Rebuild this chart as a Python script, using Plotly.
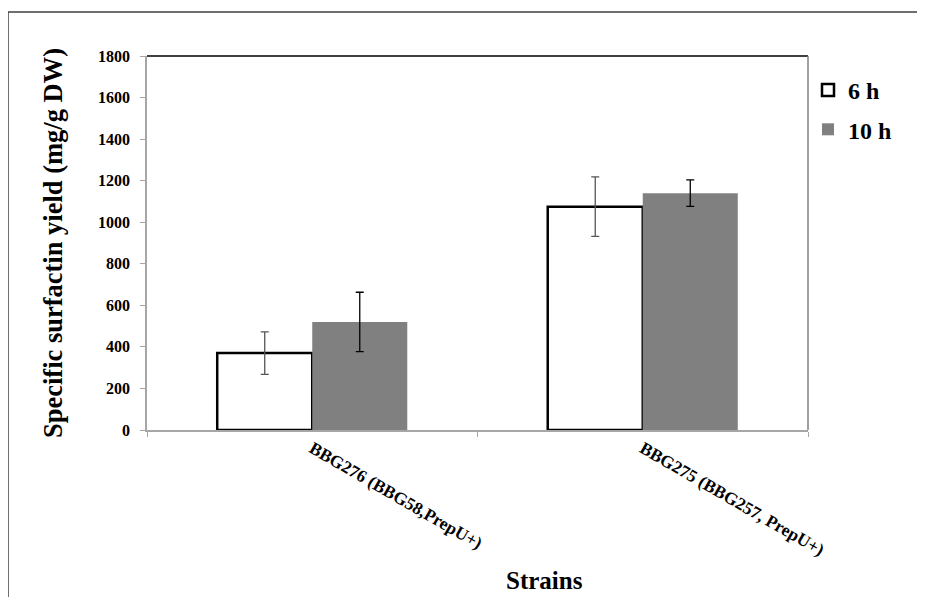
import plotly.graph_objects as go

categories = ["BBG276 (BBG58,PrepU+)", "BBG275 (BBG257, PrepU+)"]
series_names = ["6 h", "10 h"]
yield_6h = [370, 1075]
err_6h = [102, 143]
yield_10h = [520, 1140]
err_10h = [143, 64]
y_ticks = [0, 200, 400, 600, 800, 1000, 1200, 1400, 1600, 1800]

FONT = "Liberation Serif, Times New Roman, serif"

fig = go.Figure()
fig.add_trace(go.Bar(
    name=f"<b>{series_names[0]}</b>", x=categories, y=yield_6h, legendgroup="a",
    marker=dict(color="white", line=dict(color="black", width=2.5)),
    error_y=dict(type="data", array=err_6h, visible=True, color="#555555", thickness=1.3, width=4),
))
fig.add_trace(go.Bar(
    name=f"<b>{series_names[1]}</b>", x=categories, y=yield_10h, legendgroup="b",
    marker=dict(color="#808080", line=dict(color="#808080", width=0)),
    error_y=dict(type="data", array=err_10h, visible=True, color="black", thickness=1.3, width=4),
))

# page has an 8px body margin; work in figure coordinates
OFF = 8
W, H = 925, 597
L, R, T, B = 147 - OFF, W - (808 - OFF), 56 - OFF, H - (430 - OFF)
pw, ph = W - L - R, H - T - B

def px_x(x):
    return (x - OFF - L) / pw

def px_y(y):
    return (H - B - (y - OFF)) / ph

shapes = [
    dict(type="rect", xref="paper", yref="paper", x0=px_x(8), x1=px_x(1000), y0=px_y(700), y1=px_y(12),
         line=dict(color="#404040", width=1.5), fillcolor="rgba(0,0,0,0)", layer="below"),
    dict(type="line", xref="paper", yref="paper", x0=0, x1=1, y0=1, y1=1, line=dict(color="black", width=1.5)),
    dict(type="line", xref="paper", yref="paper", x0=1, x1=1, y0=0, y1=1, line=dict(color="#808080", width=1.5)),
]

fig.update_layout(
    width=W, height=H,
    margin=dict(l=L, r=R, t=T, b=B),
    paper_bgcolor="white", plot_bgcolor="white",
    barmode="group", bargap=0.425, bargroupgap=0,
    font=dict(family=FONT, color="black"),
    showlegend=True,
    legend=dict(x=1.0, xanchor="left", y=px_y(68), yanchor="top",
                font=dict(family=FONT, size=24, color="black"),
                traceorder="grouped", tracegroupgap=5, bgcolor="rgba(0,0,0,0)"),
    shapes=shapes,
    annotations=[dict(text="<b>Strains</b>", xref="paper", yref="paper", x=px_x(544), y=px_y(580),
                      showarrow=False, font=dict(family=FONT, size=25, color="black"),
                      xanchor="center", yanchor="middle")],
)

fig.update_yaxes(
    range=[0, 1800], tickvals=y_ticks, ticktext=[f"<b>{v}</b>" for v in y_ticks],
    showgrid=False, zeroline=False,
    showline=True, linecolor="#a6a6a6", linewidth=1.5,
    ticks="outside", ticklen=5, tickcolor="#a6a6a6", tickwidth=1,
    ticklabelstandoff=7,
    tickfont=dict(family=FONT, size=16, color="black"),
    title=dict(text="<b>Specific surfactin yield (mg/g DW)</b>", font=dict(family=FONT, size=26.5, color="black"), standoff=28),
)
fig.update_xaxes(
    tickvals=categories, ticktext=[f"<b>{c}</b>" for c in categories],
    tickangle=30, tickson="boundaries",
    showgrid=False, zeroline=False,
    showline=True, linecolor="#a6a6a6", linewidth=1.5,
    ticks="outside", ticklen=5, tickcolor="#a6a6a6", tickwidth=1,
    tickfont=dict(family=FONT, size=17.5, color="black"),
)

fig.write_html("out.html")
